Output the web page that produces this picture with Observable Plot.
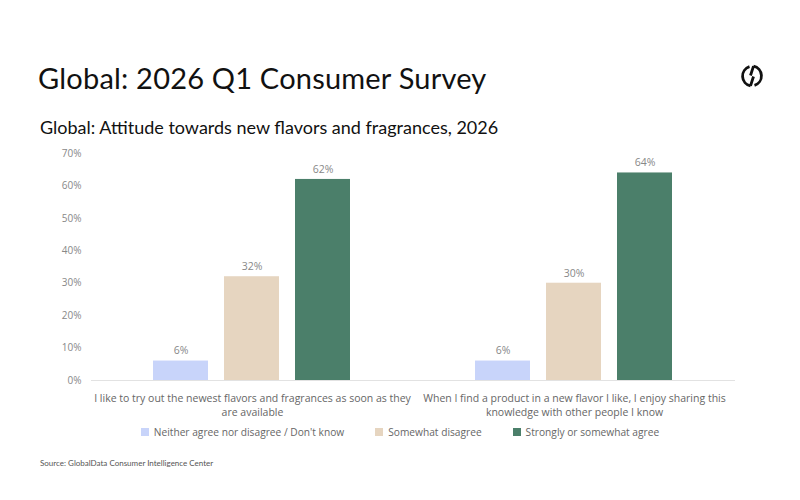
<!DOCTYPE html>
<html>
<head>
<meta charset="utf-8">
<script src="https://cdn.jsdelivr.net/npm/d3@7"></script>
<script src="https://cdn.jsdelivr.net/npm/@observablehq/plot@0.6"></script>
<style>
  html, body { margin: 0; padding: 0; background: #fff; }
  body { width: 800px; height: 500px; position: relative; font-family: Lato, "Noto Sans", sans-serif; overflow: hidden; }
  #title { position: absolute; left: 38px; top: 60px; font-size: 29px; color: #111; letter-spacing: 0.2px; }
  #subtitle { position: absolute; left: 40px; top: 116px; font-size: 18px; color: #111; }
  #logo { position: absolute; left: 738px; top: 62px; }
  #chart { position: absolute; left: 0; top: 143px; }
  #legend { position: absolute; left: 0; width: 800px; top: 425px; display: flex; justify-content: center; gap: 31px; font-family: "Open Sans", sans-serif; font-size: 10.2px; color: #666; }
  #legend span.item { display: flex; align-items: center; }
  #legend span.sw { display: inline-block; width: 8px; height: 8px; margin-right: 5px; }
  #source { position: absolute; left: 40px; top: 458px; font-size: 8px; color: #555; }
</style>
</head>
<body>
<div id="title">Global: 2026 Q1 Consumer Survey</div>
<div id="subtitle">Global: Attitude towards new flavors and fragrances, 2026</div>
<svg id="logo" width="28" height="28" viewBox="0 0 28 28">
  <path d="M11.5 4.6 A10 10 0 0 0 12.5 23.9" fill="none" stroke="#111" stroke-width="2.8"/>
  <path d="M16.5 23.4 A10 10 0 0 0 15.5 4.1" fill="none" stroke="#111" stroke-width="2.8"/>
  <path d="M15.5 4.1 L12.5 13.5 M15.5 14.5 L12.5 23.9" fill="none" stroke="#111" stroke-width="2.8"/>
</svg>
<div id="chart"></div>
<div id="legend"></div>
<div id="source">Source: GlobalData Consumer Intelligence Center</div>
<script>
// Survey statements (line breaks as shown under the bars)
const statements = [
  "I like to try out the newest flavors and fragrances as soon as they\nare available",
  "When I find a product in a new flavor I like, I enjoy sharing this\nknowledge with other people I know"
];
// Response groups
const responses = [
  "Neither agree nor disagree / Don't know",
  "Somewhat disagree",
  "Strongly or somewhat agree"
];
// Share of respondents (%) per statement, in response order
const neitherValues = [6, 6];
const disagreeValues = [32, 30];
const agreeValues = [62, 64];
const responseColors = ["#c8d4fa", "#e6d5c0", "#4b7f6a"];
const yTicks = [0, 10, 20, 30, 40, 50, 60, 70];

const seriesValues = [neitherValues, disagreeValues, agreeValues];
const rows = [];
statements.forEach((s, i) => {
  responses.forEach((r, j) => rows.push({statement: s, response: r, value: seriesValues[j][i]}));
});

const chart = Plot.plot({
  width: 800,
  height: 277,
  marginLeft: 90,
  marginRight: 65,
  marginTop: 10,
  marginBottom: 40,
  style: {fontFamily: "'Open Sans', sans-serif", background: "transparent"},
  fx: {domain: statements, padding: 0, label: null},
  x: {domain: responses, paddingInner: 0.225, paddingOuter: 0.88, axis: null},
  y: {domain: [0, 70], ticks: yTicks, label: null},
  color: {domain: responses, range: responseColors},
  marks: [
    Plot.axisY({ticks: yTicks, tickSize: 0, tickPadding: 10, tickFormat: d => d + "%", fontSize: 10, color: "#888", label: null}),
    Plot.axisFx({anchor: "bottom", tickSize: 0, tickPadding: 11, fontSize: 10.5, lineHeight: 1.38, color: "#666", label: null}),
    Plot.barY(rows, {fx: "statement", x: "response", y: "value", fill: "response"}),
    Plot.ruleY([0], {stroke: "#e2e2e2", strokeWidth: 1.2}),
    Plot.text(rows, {fx: "statement", x: "response", y: "value", text: d => d.value + "%", dy: -10, fill: "#888", fontSize: 10.5})
  ]
});
document.getElementById("chart").appendChild(chart);

const legend = document.getElementById("legend");
responses.forEach((r, j) => {
  const item = document.createElement("span");
  item.className = "item";
  item.innerHTML = `<span class="sw" style="background:${responseColors[j]}"></span>`;
  item.appendChild(document.createTextNode(r));
  legend.appendChild(item);
});
</script>
</body>
</html>
